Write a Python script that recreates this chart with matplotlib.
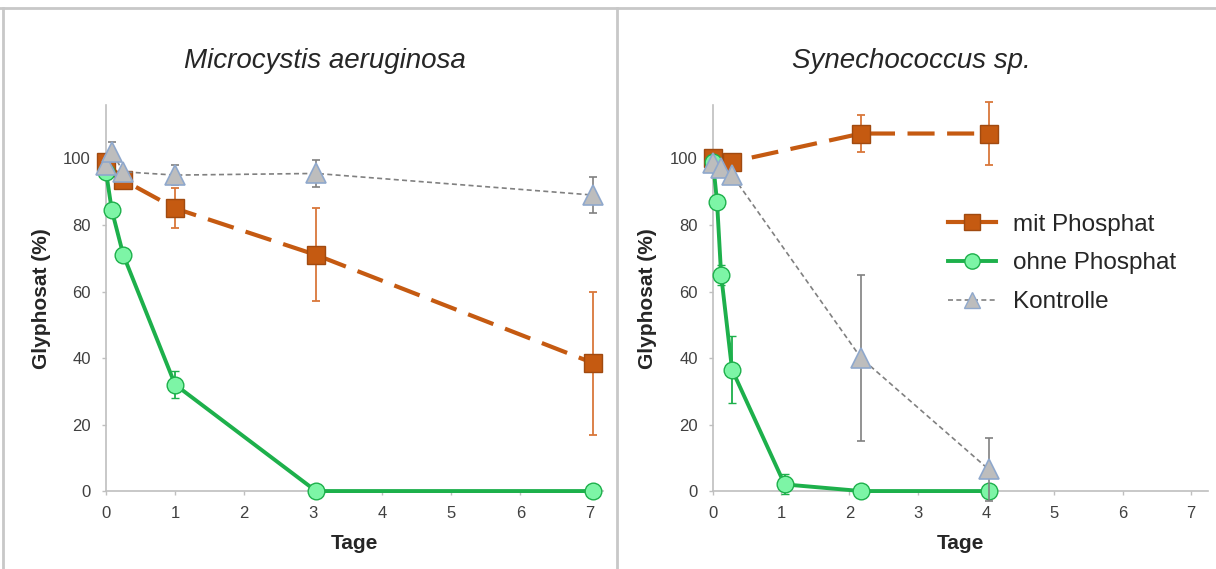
import matplotlib.pyplot as plt
from matplotlib.lines import Line2D

plt.rcParams['font.family'] = ['Liberation Sans', 'DejaVu Sans']

# Microcystis aeruginosa
mic_mit_x = [0, 0.25, 1, 3.04, 7.05]
mic_mit_y = [99, 93.5, 85, 71, 38.5]
mic_mit_err = [0, 0, 6, 14, 21.5]

mic_ohne_x = [0, 0.083, 0.25, 1, 3.04, 7.05]
mic_ohne_y = [96, 84.5, 71, 32, 0, 0]
mic_ohne_err = [0, 0, 0, 4, 0, 0]

mic_ko_x = [0, 0.083, 0.25, 1, 3.04, 7.05]
mic_ko_y = [98, 102, 96, 95, 95.5, 89]
mic_ko_err = [0, 3, 0, 3, 4, 5.5]

# Synechococcus sp.
syn_mit_x = [0, 0.28, 2.17, 4.04]
syn_mit_y = [100, 99, 107.5, 107.5]
syn_mit_err = [0, 0, 5.5, 9.5]

syn_ohne_x = [0, 0.06, 0.12, 0.28, 1.05, 2.17, 4.04]
syn_ohne_y = [99, 87, 65, 36.5, 2, 0, 0]
syn_ohne_err = [0, 0, 3, 10, 3, 0, 0]

syn_ko_x = [0, 0.12, 0.28, 2.17, 4.04]
syn_ko_y = [98.5, 97, 95, 40, 6.5]
syn_ko_err = [0, 0, 0, 25, 9.5]

labels = ["mit Phosphat", "ohne Phosphat", "Kontrolle"]
x_ticks = [0, 1, 2, 3, 4, 5, 6, 7]
y_ticks = [0, 20, 40, 60, 80, 100]

ORANGE = "#C55A11"
ORANGE_ERR = "#D9773A"
GREEN = "#1DB04B"
GREEN_FILL = "#7DF5A6"
GRAY_LINE = "#808080"
GRAY_FILL = "#BDBDBD"
TRI_EDGE = "#8FA8CC"
AXIS_GRAY = "#BFBFBF"


def draw_panel(ax, title, mit, ohne, ko, xmax, title_x):
    ax.errorbar(mit[0], mit[1], yerr=mit[2], color=ORANGE, lw=3,
                dashes=(6.5, 3), marker="s", ms=13, mfc=ORANGE, mec="#A04A10",
                ecolor=ORANGE_ERR, elinewidth=1.3, capsize=3, capthick=1.3,
                clip_on=False, zorder=3, label=labels[0])
    ax.errorbar(ohne[0], ohne[1], yerr=ohne[2], color=GREEN, lw=2.8,
                marker="o", ms=12, mfc=GREEN_FILL, mec=GREEN, mew=1,
                ecolor=GREEN, elinewidth=1.3, capsize=3, capthick=1.3,
                clip_on=False, zorder=4, label=labels[1])
    ax.errorbar(ko[0], ko[1], yerr=ko[2], color=GRAY_LINE, lw=1.2,
                ls=(0, (3, 2)), marker="^", ms=15, mfc=GRAY_FILL, mec=TRI_EDGE,
                mew=1.2, ecolor=GRAY_LINE, elinewidth=1.2, capsize=3,
                capthick=1.2, clip_on=False, zorder=5, label=labels[2])

    ax.set_xlim(0, xmax)
    ax.set_ylim(0, 116)
    ax.set_xticks(x_ticks)
    ax.set_yticks(y_ticks)
    for s in ["top", "right"]:
        ax.spines[s].set_visible(False)
    for s in ["left", "bottom"]:
        ax.spines[s].set_color(AXIS_GRAY)
        ax.spines[s].set_linewidth(1.2)
    ax.tick_params(colors="#404040", labelsize=12, length=3, width=1,
                   color=AXIS_GRAY)
    ax.tick_params(axis="x", pad=8)
    ax.tick_params(axis="y", pad=8)
    ax.set_xlabel("Tage", fontsize=15, fontweight="bold", color="#262626",
                  labelpad=9)
    ax.set_ylabel("Glyphosat (%)", fontsize=15, fontweight="bold",
                  color="#262626", labelpad=9)
    ax.set_title(title, fontsize=20, style="italic", color="#262626", pad=27,
                 x=title_x)


fig = plt.figure(figsize=(12.16, 5.69), dpi=100)
ax1 = fig.add_axes([0.0872, 0.137, 0.409, 0.678])
ax2 = fig.add_axes([0.5863, 0.137, 0.407, 0.678])

draw_panel(ax1, "Microcystis aeruginosa",
           (mic_mit_x, mic_mit_y, mic_mit_err),
           (mic_ohne_x, mic_ohne_y, mic_ohne_err),
           (mic_ko_x, mic_ko_y, mic_ko_err), 7.2, 0.44)
draw_panel(ax2, "Synechococcus sp.",
           (syn_mit_x, syn_mit_y, syn_mit_err),
           (syn_ohne_x, syn_ohne_y, syn_ohne_err),
           (syn_ko_x, syn_ko_y, syn_ko_err), 7.25, 0.40)

handles = [
    Line2D([], [], color=ORANGE, lw=3, marker="s", ms=11, mfc=ORANGE, mec="#A04A10"),
    Line2D([], [], color=GREEN, lw=2.8, marker="o", ms=11, mfc=GREEN_FILL, mec=GREEN),
    Line2D([], [], color=GRAY_LINE, lw=1.2, ls=(0, (3, 2)), marker="^", ms=11,
           mfc=GRAY_FILL, mec=TRI_EDGE),
]
ax2.legend(handles, labels, loc="upper left", bbox_to_anchor=(0.43, 0.775),
           frameon=False, fontsize=17.5, handlelength=2.0, handletextpad=0.7,
           labelspacing=0.68, labelcolor="#262626")

# frame lines of the picture
frame = dict(color="#C8C8C8", lw=2, transform=fig.transFigure)
fig.add_artist(Line2D([0, 1], [1 - 8 / 569, 1 - 8 / 569], **frame))
fig.add_artist(Line2D([3 / 1216, 3 / 1216], [0, 1 - 8 / 569], **frame))
fig.add_artist(Line2D([617 / 1216, 617 / 1216], [0, 1 - 8 / 569], **frame))

fig.savefig("out.png", dpi=100)
